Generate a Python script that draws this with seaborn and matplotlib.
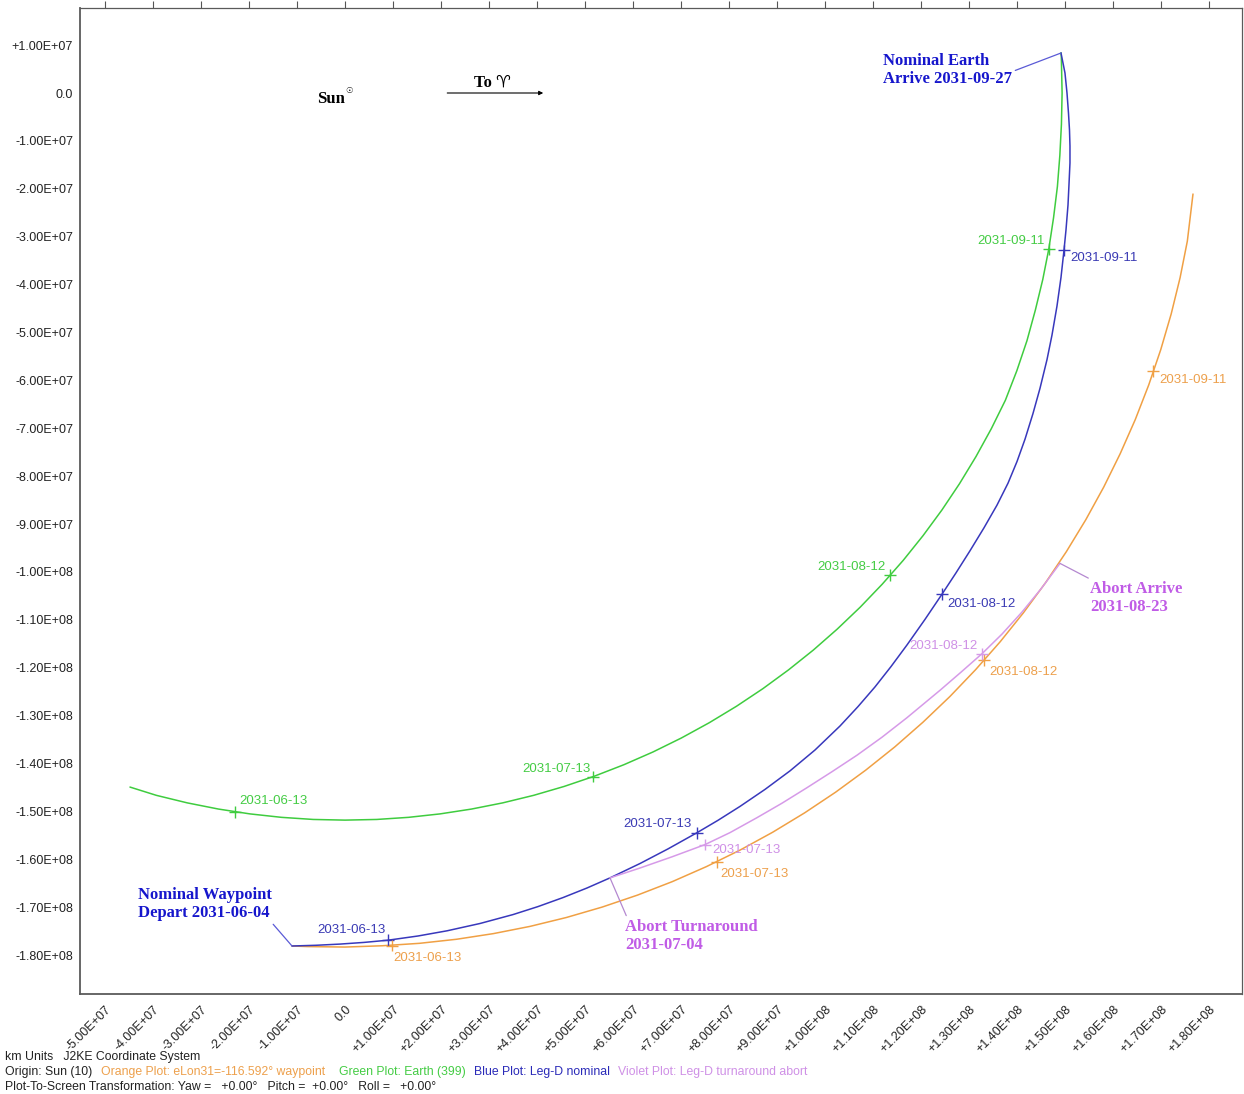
import matplotlib
matplotlib.use("Agg")
import matplotlib.pyplot as plt
import numpy as np
import pandas as pd
import seaborn as sns

KM = 1e7  # all coordinates below are in units of 1e7 km (J2KE, Sun-centred)

# Earth (399) heliocentric track, 2031-06-04 .. 2031-09-27
earth_x = [-4.48, -3.929, -3.286, -2.636, -1.981, -1.323, -0.662, 0.0, 0.662, 1.323,
           1.981, 2.636, 3.286, 3.929, 4.565, 5.192, 5.809, 6.415, 7.009, 7.59, 8.156,
           8.707, 9.241, 9.758, 10.255, 10.734, 11.192, 11.629, 12.043, 12.435, 12.803,
           13.146, 13.465, 13.758, 13.997, 14.208, 14.382, 14.537, 14.664, 14.762,
           14.842, 14.893, 14.926, 14.94, 14.926, 14.92]
earth_y = [-14.49, -14.663, -14.82, -14.949, -15.05, -15.122, -15.166, -15.18, -15.166,
           -15.122, -15.05, -14.949, -14.82, -14.663, -14.477, -14.264, -14.024, -13.758,
           -13.465, -13.146, -12.803, -12.435, -12.043, -11.629, -11.192, -10.734,
           -10.255, -9.758, -9.241, -8.707, -8.156, -7.59, -7.009, -6.415, -5.798,
           -5.171, -4.535, -3.895, -3.251, -2.603, -1.954, -1.303, -0.652, 0.0, 0.652, 0.84]

# Leg-D nominal transfer (blue)
nominal_x = [-1.104, -0.604, -0.104, 0.396, 0.896, 1.521, 2.125, 2.813, 3.5, 4.021,
             4.542, 5.042, 5.521, 6.146, 6.729, 7.333, 7.771, 8.229, 8.75, 9.271,
             9.792, 10.313, 10.688, 11.042, 11.375, 11.708, 12.083, 12.438, 12.729,
             13.021, 13.313, 13.583, 13.813, 14.0, 14.167, 14.333, 14.479, 14.625,
             14.729, 14.833, 14.917, 14.979, 15.021, 15.063, 15.083, 15.104, 15.104,
             15.094, 15.073, 15.042, 15.0, 14.917]
nominal_y = [-17.808, -17.793, -17.768, -17.733, -17.687, -17.599, -17.491, -17.338,
             -17.152, -16.985, -16.797, -16.597, -16.386, -16.086, -15.781, -15.443,
             -15.184, -14.894, -14.539, -14.152, -13.716, -13.215, -12.81, -12.399,
             -11.975, -11.524, -10.99, -10.463, -10.019, -9.557, -9.077, -8.605,
             -8.146, -7.695, -7.228, -6.693, -6.167, -5.568, -5.056, -4.451, -3.85,
             -3.286, -2.86, -2.338, -1.921, -1.461, -1.106, -0.772, -0.418, 0.0,
             0.418, 0.835]

# eLon31 waypoint track (orange)
waypoint_x = [-1.104, -0.777, 0.0, 0.777, 1.553, 2.326, 3.094, 3.857, 4.612, 5.359,
              6.095, 6.819, 7.531, 8.228, 8.91, 9.575, 10.221, 10.848, 11.455, 12.039,
              12.601, 13.138, 13.651, 14.137, 14.597, 15.029, 15.433, 15.807, 16.15,
              16.464, 16.745, 16.995, 17.213, 17.398, 17.549, 17.667]
waypoint_y = [-17.808, -17.82, -17.83, -17.803, -17.752, -17.667, -17.549, -17.398,
              -17.213, -16.995, -16.745, -16.464, -16.15, -15.807, -15.433, -15.029,
              -14.597, -14.137, -13.651, -13.138, -12.601, -12.039, -11.455, -10.848,
              -10.221, -9.575, -8.91, -8.228, -7.531, -6.819, -6.095, -5.359, -4.612,
              -3.857, -3.094, -2.109]

# Leg-D turnaround abort (violet)
abort_x = [5.521, 6.146, 6.813, 7.5, 8.021, 8.583, 9.104, 9.625, 10.146, 10.667,
           11.188, 11.708, 12.396, 12.833, 13.271, 13.688, 14.104, 14.5, 14.896]
abort_y = [-16.386, -16.18, -15.946, -15.691, -15.441, -15.129, -14.827, -14.503,
           -14.169, -13.825, -13.449, -13.042, -12.47, -12.092, -11.706, -11.296,
           -10.837, -10.353, -9.82]

# Date ticks along each track
earth_dates = ["2031-06-13", "2031-07-13", "2031-08-12", "2031-09-11"]
earth_mark_x = [-2.29, 5.17, 11.35, 14.664]
earth_mark_y = [-15.006, -14.272, -10.06, -3.251]
nominal_dates = ["2031-06-13", "2031-07-13", "2031-08-12", "2031-09-11"]
nominal_mark_x = [0.896, 7.333, 12.438, 14.979]
nominal_mark_y = [-17.687, -15.443, -10.463, -3.286]
waypoint_dates = ["2031-06-13", "2031-07-13", "2031-08-12", "2031-09-11"]
waypoint_mark_x = [0.98, 7.75, 13.31, 16.83]
waypoint_mark_y = [-17.80, -16.05, -11.84, -5.80]
abort_dates = ["2031-07-13", "2031-08-12"]
abort_mark_x = [7.5, 13.271]
abort_mark_y = [-15.691, -11.706]

# Event call-outs
depart_xy = (-1.104, -17.808)
arrive_xy = (14.917, 0.835)
turnaround_xy = (5.521, -16.386)
abort_arrive_xy = (14.896, -9.82)

x_ticks = np.arange(-5, 19) * KM
y_ticks = np.arange(1, -19, -1) * KM

colors = {
    "waypoint": "#f0a044",
    "earth": "#3fcc3f",
    "nominal": "#3838bc",
    "abort": "#d69ae8",
}
label_colors = {
    "waypoint": "#eda04c",
    "earth": "#44cc44",
    "nominal": "#3a3ab4",
    "abort": "#cf90e6",
}
callout_blue = "#1616cc"
callout_violet = "#c05ce6"

sns.set_style("white")
plt.rcParams["font.family"] = ["Liberation Sans", "DejaVu Sans"]

tracks = pd.concat([
    pd.DataFrame({"track": "waypoint", "x": waypoint_x, "y": waypoint_y}),
    pd.DataFrame({"track": "earth", "x": earth_x, "y": earth_y}),
    pd.DataFrame({"track": "nominal", "x": nominal_x, "y": nominal_y}),
    pd.DataFrame({"track": "abort", "x": abort_x, "y": abort_y}),
], ignore_index=True)
tracks["x"] *= KM
tracks["y"] *= KM

# label offsets in pixels (dx, dy, ha) per mark
marks = pd.concat([
    pd.DataFrame({"track": "earth", "date": earth_dates, "x": earth_mark_x, "y": earth_mark_y,
                  "dx": [4, -3, -4, -4], "dy": [11, 8, 8, 8],
                  "ha": ["left", "right", "right", "right"]}),
    pd.DataFrame({"track": "nominal", "date": nominal_dates, "x": nominal_mark_x, "y": nominal_mark_y,
                  "dx": [-2, -5, 5, 6], "dy": [10, 9, -10, -8],
                  "ha": ["right", "right", "left", "left"]}),
    pd.DataFrame({"track": "waypoint", "date": waypoint_dates, "x": waypoint_mark_x, "y": waypoint_mark_y,
                  "dx": [1, 3, 5, 6], "dy": [-12, -12, -12, -9],
                  "ha": ["left", "left", "left", "left"]}),
    pd.DataFrame({"track": "abort", "date": abort_dates, "x": abort_mark_x, "y": abort_mark_y,
                  "dx": [7, -4], "dy": [-5, 8],
                  "ha": ["left", "right"]}),
], ignore_index=True)
marks["x"] *= KM
marks["y"] *= KM

fig = plt.figure(figsize=(12.44, 10.94), dpi=100)
ax = fig.add_axes([0.06431, 0.09141, 0.93408, 0.90128])

sns.lineplot(data=tracks, x="x", y="y", hue="track", palette=colors, sort=False,
             estimator=None, legend=False, linewidth=1.1, ax=ax)
sns.scatterplot(data=marks, x="x", y="y", hue="track", palette=colors, marker="+",
                s=70, linewidth=1.0, legend=False, ax=ax, zorder=3)

for _, r in marks.iterrows():
    ax.annotate(r["date"], xy=(r["x"], r["y"]), xytext=(r["dx"], r["dy"]),
                textcoords="offset pixels", ha=r["ha"], va="center",
                fontsize=9.5, color=label_colors[r["track"]])

serif_bold = dict(family=["Liberation Serif", "DejaVu Serif"], fontweight="bold")

ax.annotate("Nominal Earth\nArrive 2031-09-27", xy=(arrive_xy[0] * KM, arrive_xy[1] * KM),
            xytext=(-49, -17), textcoords="offset pixels", ha="right", va="center",
            multialignment="left", fontsize=12, color=callout_blue, linespacing=1.15,
            arrowprops=dict(arrowstyle="-", color="#5a5ad6", lw=0.9, shrinkA=0, shrinkB=0,
                            relpos=(1.0, 0.45)), **serif_bold)
ax.annotate("Nominal Waypoint\nDepart 2031-06-04", xy=(depart_xy[0] * KM, depart_xy[1] * KM),
            xytext=(-20, 25), textcoords="offset pixels", ha="right", va="bottom",
            multialignment="left", fontsize=12, color=callout_blue, linespacing=1.15,
            arrowprops=dict(arrowstyle="-", color="#5a5ad6", lw=0.9, shrinkA=0, shrinkB=0,
                            relpos=(0.97, 0.08)), **serif_bold)
ax.annotate("Abort Turnaround\n2031-07-04", xy=(turnaround_xy[0] * KM, turnaround_xy[1] * KM),
            xytext=(15, -41), textcoords="offset pixels", ha="left", va="top",
            multialignment="left", fontsize=12, color=callout_violet, linespacing=1.15,
            arrowprops=dict(arrowstyle="-", color="#b488d0", lw=0.9, shrinkA=0, shrinkB=0,
                            relpos=(0.02, 1.0)), **serif_bold)
ax.annotate("Abort Arrive\n2031-08-23", xy=(abort_arrive_xy[0] * KM, abort_arrive_xy[1] * KM),
            xytext=(30, -18), textcoords="offset pixels", ha="left", va="top",
            multialignment="left", fontsize=12, color=callout_violet, linespacing=1.15,
            arrowprops=dict(arrowstyle="-", color="#b488d0", lw=0.9, shrinkA=0, shrinkB=0,
                            relpos=(0.05, 1.0)), **serif_bold)

# Sun at the origin and the vernal-equinox direction
ax.text(0, -0.13 * KM, "Sun", ha="right", va="center", fontsize=12, color="black", **serif_bold)
ax.text(0.01 * KM, -0.05 * KM, "\u2609", ha="left", va="bottom", fontsize=6, color="black",
        family=["DejaVu Sans"])
ax.annotate("", xy=(4.13 * KM, 0), xytext=(2.13 * KM, 0),
            arrowprops=dict(arrowstyle="-|>", color="black", lw=0.8, mutation_scale=6,
                            shrinkA=0, shrinkB=0))
ax.text(3.08 * KM, 0.05 * KM, "To \u2648", ha="center", va="bottom", fontsize=12,
        color="black", fontweight="bold", family=["Liberation Serif", "DejaVu Sans"])

ax.set_xlim(-5.521 * KM, 18.688 * KM)
ax.set_ylim(-18.810 * KM, 1.7746 * KM)


def sci(v):
    return "0.0" if abs(v) < 1 else "{:+.2E}".format(v)


ax.set_xticks(x_ticks)
ax.set_xticklabels([sci(v) for v in x_ticks], rotation=45, ha="right", va="top",
                   rotation_mode="anchor")
ax.set_yticks(y_ticks)
ax.set_yticklabels([sci(v) for v in y_ticks])
ax.set_xlabel("")
ax.set_ylabel("")
ax.tick_params(axis="both", direction="out", length=4, width=0.8, color="#555555",
               labelsize=9, labelcolor="#222222", pad=1)
ax.tick_params(axis="x", top=True, labeltop=False, length=5, pad=2)
for name, sp in ax.spines.items():
    sp.set_color("#5a5a5a")
    sp.set_linewidth(1.3 if name in ("left", "bottom") else 0.9)

# footer
fs = 8.8
fig.text(5 / 1244, 1 - 1057 / 1094, "km Units   J2KE Coordinate System", fontsize=fs,
         color="#222222", va="center")
footer_parts = [
    (5, "Origin: Sun (10)", "#222222"),
    (101, "Orange Plot: eLon31=-116.592\u00b0 waypoint", label_colors["waypoint"]),
    (339, "Green Plot: Earth (399)", label_colors["earth"]),
    (474, "Blue Plot: Leg-D nominal", "#2a2ab8"),
    (618, "Violet Plot: Leg-D turnaround abort", label_colors["abort"]),
]
for px, txt, col in footer_parts:
    fig.text(px / 1244, 1 - 1072 / 1094, txt, fontsize=fs, color=col, va="center")
fig.text(5 / 1244, 1 - 1087 / 1094,
         "Plot-To-Screen Transformation: Yaw =   +0.00\u00b0   Pitch =  +0.00\u00b0   Roll =   +0.00\u00b0",
         fontsize=fs, color="#222222", va="center")

fig.savefig("out.png", dpi=100)
